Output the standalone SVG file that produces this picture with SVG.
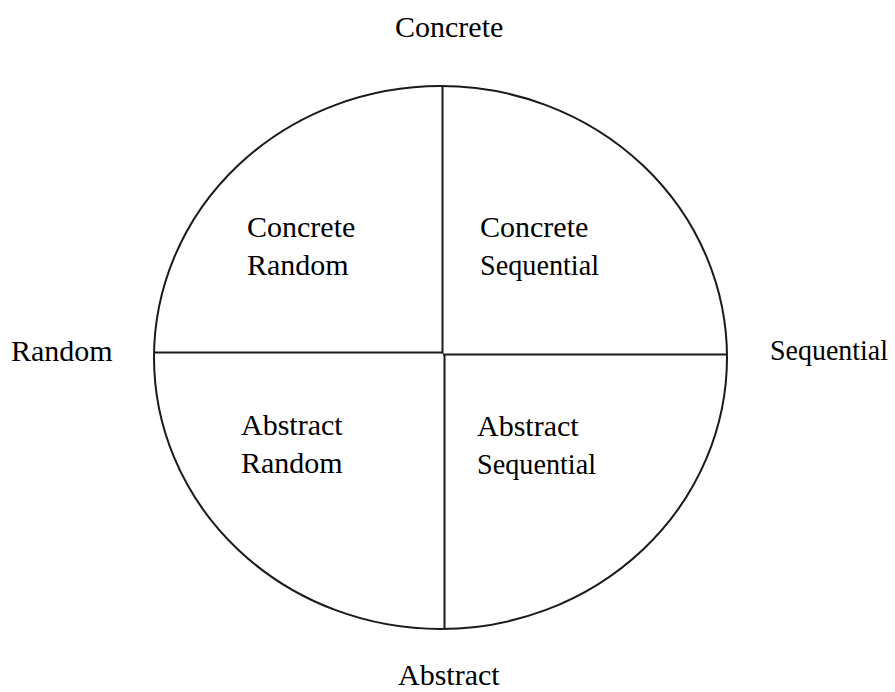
<svg xmlns="http://www.w3.org/2000/svg" width="895" height="692" viewBox="0 0 895 692">
<style>
  .ln { stroke: #1a1a1a; stroke-width: 2; fill: none; }
  .t { font-family: "Liberation Serif", "Times New Roman", serif; font-size: 30px; fill: #000; }
</style>
<rect width="895" height="692" fill="#fff"/>
<g id="circle">
  <ellipse class="ln" cx="440.5" cy="357.5" rx="286.5" ry="271.5"/>
</g>
<g id="connectors">
  <line class="ln" x1="442.5" y1="86" x2="442.5" y2="353.5"/>
  <line class="ln" x1="154" y1="352.5" x2="443" y2="352.5"/>
  <line class="ln" x1="443" y1="354.5" x2="727" y2="354.5"/>
  <line class="ln" x1="444.5" y1="354" x2="444.5" y2="629"/>
</g>
<g id="axis-labels">
  <text class="t" x="395" y="37">Concrete</text>
  <text class="t" x="11" y="361">Random</text>
  <text class="t" x="770" y="360" textLength="118" lengthAdjust="spacingAndGlyphs">Sequential</text>
  <text class="t" x="398" y="685">Abstract</text>
</g>
<g id="concrete-random">
  <text class="t" x="247" y="237">Concrete</text>
  <text class="t" x="247" y="275">Random</text>
</g>
<g id="concrete-sequential">
  <text class="t" x="480" y="237">Concrete</text>
  <text class="t" x="480" y="275" textLength="119" lengthAdjust="spacingAndGlyphs">Sequential</text>
</g>
<g id="abstract-random">
  <text class="t" x="241" y="435">Abstract</text>
  <text class="t" x="241" y="473">Random</text>
</g>
<g id="abstract-sequential">
  <text class="t" x="477" y="436">Abstract</text>
  <text class="t" x="477" y="474" textLength="119" lengthAdjust="spacingAndGlyphs">Sequential</text>
</g>
</svg>
